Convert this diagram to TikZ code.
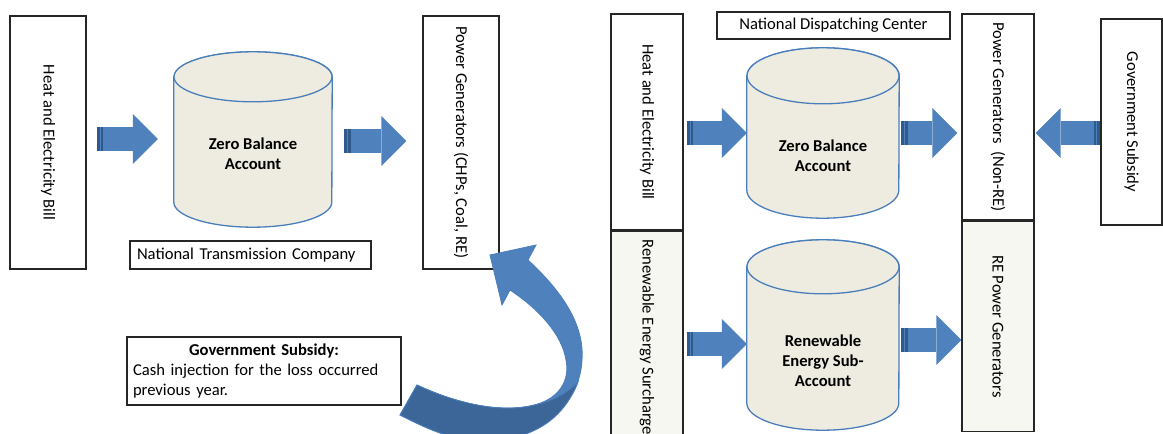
\documentclass[tikz,border=0pt]{standalone}
\usepackage{fontspec}
\setmainfont{Carlito}
\usepackage{graphicx}
\usetikzlibrary{positioning, arrows.meta}

\definecolor{arrowblue}{HTML}{4F81BD}
\definecolor{stripeblue}{HTML}{2F5A8C}
\definecolor{edgeblue}{HTML}{4A7EBB}
\definecolor{underblue}{HTML}{3D6698}
\definecolor{cantan}{HTML}{EEECE1}
\definecolor{palegreen}{HTML}{F5F7F0}

\tikzset{
  box/.style={draw=black!85, line width=1.3pt, fill=white, inner sep=0pt},
  canbody/.style={inner sep=0pt},
  canskin/.style={draw=edgeblue, fill=cantan, line width=1.3pt},
  cantext/.style={align=center, font=\fontsize{16.6}{20}\selectfont\bfseries},
  flow/.style={draw=arrowblue, line width=24pt,
    -{Triangle[width=50pt, length=25pt, line width=0pt]},
    postaction={draw=stripeblue, -, dash pattern=on 3pt off 1.2pt on 2.5pt off 2000pt}},
  loopband/.style={fill=arrowblue, draw=edgeblue, line width=0.8pt}
}

\begin{document}
\begin{tikzpicture}[x=1pt, y=-1pt, font=\fontsize{16.6}{20}\selectfont]
    \useasboundingbox (0,0) rectangle (1163,434);
    \clip (0,0) rectangle (1163,434);

    % Left panel
    \node[box, minimum width=76pt, minimum height=253pt] (heatL) at (48,142.5) {\rotatebox{-90}{Heat and Electricity Bill}};
    \node[canbody, minimum width=158pt, minimum height=175pt] (zbaL) at (253,139.5) {};
    \path[canskin] ([yshift=-25pt]zbaL.north west) -- ([yshift=25pt]zbaL.south west) arc (180:0:79 and 25)
        -- ([yshift=-25pt]zbaL.north east) arc (0:-180:79 and 25) -- cycle;
    \path[canskin] ([yshift=-25pt]zbaL.north) ellipse (79 and 25);
    \node[cantext] (zbaLtext) at ([yshift=-14pt]zbaL.center) {Zero Balance\\Account};
    \node[box, minimum width=76pt, minimum height=253pt] (pgL) at (461,142.5) {\rotatebox{-90}{Power Generators (CHPs, Coal, RE)}};
    \node[box, minimum width=241pt, minimum height=28pt, text width=227pt, align=left] (ntc) at (250.5,255) {National Transmission Company};
    \node[box, minimum width=274pt, minimum height=68pt, text width=262pt, align=left] (subL) at (264,371)
        {\makebox[262pt]{\textbf{Government Subsidy:}}\\Cash injection for the loss occurred\\previous year.};

    % Right panel
    \node[box, minimum width=72pt, minimum height=216pt] (heatR) at (647,122) {\rotatebox{-90}{Heat and Electricity Bill}};
    \node[box, fill=palegreen, minimum width=72pt, minimum height=212pt, below=0pt of heatR] (resR) {\rotatebox{-90}{Renewable Energy Surcharge}};
    \node[box, minimum width=233pt, minimum height=27pt] (ndc) at (833.5,25.5) {National Dispatching Center};

    \node[canbody, minimum width=152pt, minimum height=170pt] (zbaR) at (823,133) {};
    \path[canskin] ([yshift=-28pt]zbaR.north west) -- ([yshift=28pt]zbaR.south west) arc (180:0:76 and 28)
        -- ([yshift=-28pt]zbaR.north east) arc (0:-180:76 and 28) -- cycle;
    \path[canskin] ([yshift=-28pt]zbaR.north) ellipse (76 and 28);
    \node[cantext] (zbaRtext) at ([yshift=-23pt]zbaR.center) {Zero Balance\\Account};

    \node[canbody, minimum width=152pt, minimum height=190pt] (resa) at (823,335) {};
    \path[canskin] ([yshift=-27pt]resa.north west) -- ([yshift=27pt]resa.south west) arc (180:0:76 and 27)
        -- ([yshift=-27pt]resa.north east) arc (0:-180:76 and 27) -- cycle;
    \path[canskin] ([yshift=-27pt]resa.north) ellipse (76 and 27);
    \node[cantext] (resatext) at ([yshift=-26pt]resa.center) {Renewable\\Energy Sub-\\Account};

    \node[box, minimum width=72pt, minimum height=206pt] (pgNon) at (998,117) {\rotatebox{-90}{Power Generators~ (Non-RE)}};
    \node[box, fill=palegreen, minimum width=72pt, minimum height=210pt, below=0pt of pgNon] (reg) {\rotatebox{-90}{RE Power Generators}};
    \node[box, minimum width=61pt, minimum height=206pt] (govR) at (1131.5,122) {\rotatebox{-90}{Government Subsidy}};

    % Arrow rows
    \coordinate (rowA) at (0,139);
    \coordinate (rowB) at (0,141);
    \coordinate (rowC) at (0,133);
    \coordinate (rowD) at (0,344);
    \coordinate (rowE) at (0,340);

    \draw[flow, shorten <=10pt, shorten >=16pt] (heatL.east |- rowA) -- (zbaL.west |- rowA);
    \draw[flow, shorten <=12pt, shorten >=16pt] (zbaL.east |- rowB) -- (pgL.west |- rowB);
    \draw[flow, shorten <=3pt] (heatR.east |- rowC) -- (zbaR.west |- rowC);
    \draw[flow, shorten <=3pt] (resR.east |- rowD) -- (resa.west |- rowD);
    \draw[flow, shorten <=2pt, shorten >=4pt] (zbaR.east |- rowC) -- (pgNon.west |- rowC);
    \draw[flow, shorten <=2pt] (resa.east |- rowE) -- (reg.west |- rowE);
    \draw[flow, shorten >=1pt] (govR.west |- rowC) -- (pgNon.east |- rowC);

    % Curved subsidy arrow
    \path[loopband] (417,385) .. controls (460,405) and (500,412) .. (530,406)
        .. controls (560,400) and (570,380) .. (566,360)
        .. controls (562,335) and (540,310) .. (510,290)
        -- (502,305) -- (490,255) -- (536,245) -- (528,260)
        .. controls (555,285) and (585,320) .. (582,360)
        .. controls (580,400) and (550,430) .. (500,440)
        .. controls (460,445) and (430,430) .. (400,415) -- cycle;
    \path[loopband, fill=underblue] (417,385) .. controls (460,405) and (500,412) .. (530,406)
        .. controls (550,402) and (565,395) .. (578,382)
        .. controls (565,415) and (540,435) .. (500,440)
        .. controls (460,445) and (430,430) .. (400,415) -- cycle;

\end{tikzpicture}
\end{document}
